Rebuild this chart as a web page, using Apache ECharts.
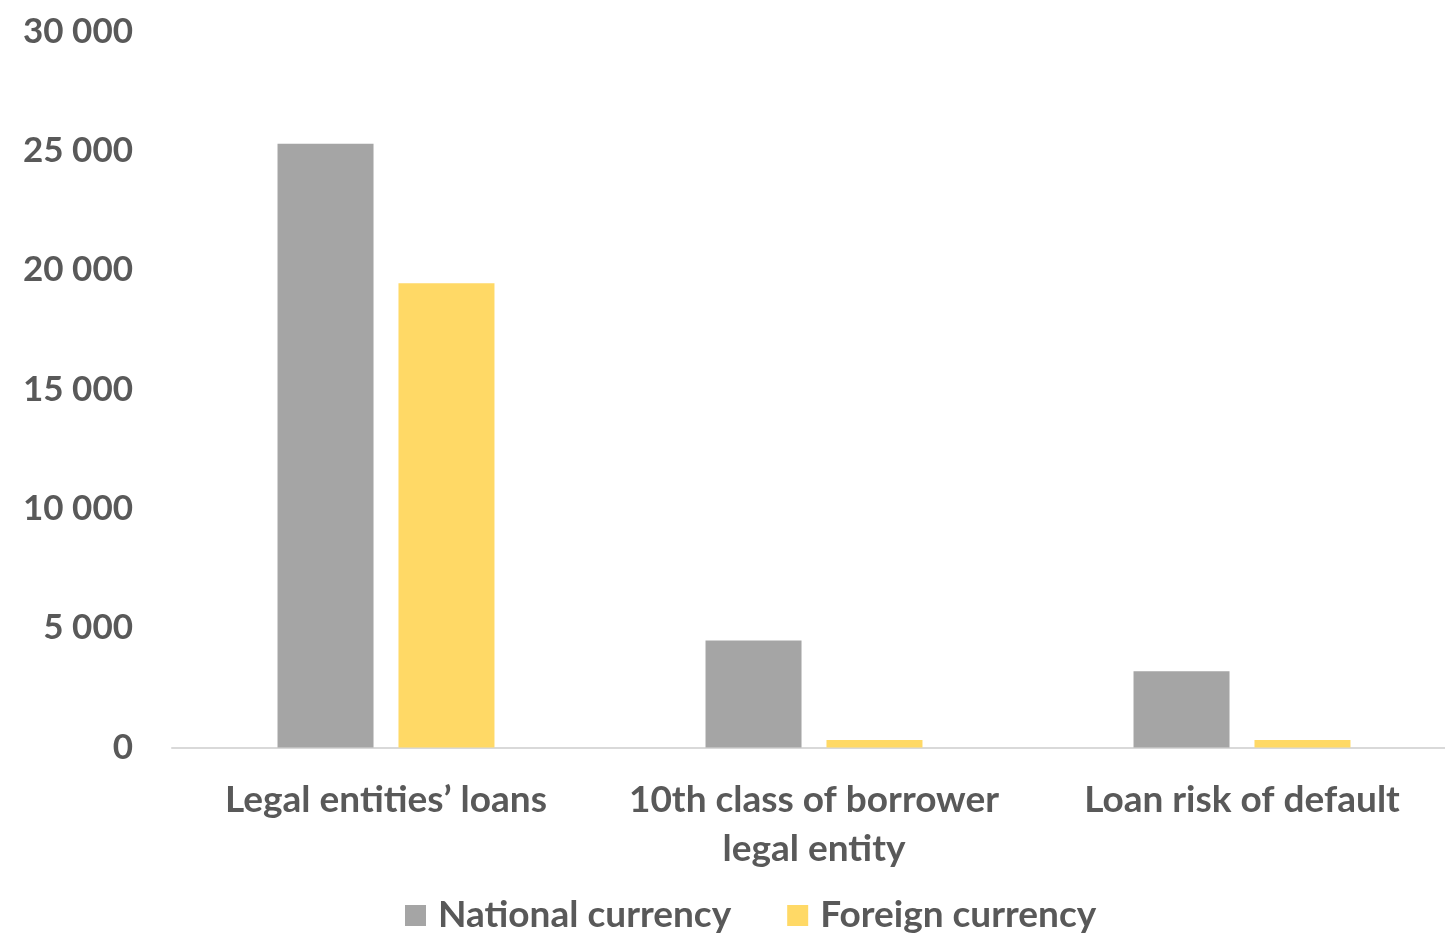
<!DOCTYPE html>
<html>
<head>
<meta charset="utf-8">
<script src="https://cdn.jsdelivr.net/npm/echarts@6/dist/echarts.min.js"></script>
<style>
  html, body { margin: 0; padding: 0; background: #fff; }
  #chart { width: 1445px; height: 938px; }
</style>
</head>
<body>
<div id="chart"></div>
<script>
// Loan volumes by currency
const categories = ['Legal entities\u2019 loans', '10th class of borrower\nlegal entity', 'Loan risk of default'];
const seriesNames = ['National currency', 'Foreign currency'];
const nationalValues = [25300, 4480, 3200];
const foreignValues = [19450, 310, 310];
const yTicks = [0, 5000, 10000, 15000, 20000, 25000, 30000];

const FONT = 'Lato, "Open Sans", sans-serif';
const TEXT = '#595959';

const chart = echarts.init(document.getElementById('chart'), null, { renderer: 'canvas' });

const fmt = v => String(v).replace(/\B(?=(\d{3})+(?!\d))/g, ' ');

chart.setOption({
  animation: false,
  backgroundColor: '#ffffff',
  grid: {
    left: 172, width: 1284, top: 31.5, bottom: 190.5,
    containLabel: false, outerBoundsMode: 'none'
  },
  legend: {
    data: seriesNames,
    top: 892,
    left: 400,
    icon: 'rect',
    itemWidth: 21,
    itemHeight: 21,
    itemGap: 56,
    textStyle: { fontFamily: FONT, fontWeight: 'bold', fontSize: 37, color: TEXT, padding: [0, 0, 0, 7] }
  },
  xAxis: {
    type: 'category',
    data: categories,
    axisLine: { show: true, lineStyle: { color: '#d9d9d9', width: 2 } },
    axisTick: { show: false },
    axisLabel: {
      fontFamily: FONT, fontWeight: 'bold', fontSize: 37, color: TEXT,
      margin: 28, lineHeight: 49, interval: 0
    }
  },
  yAxis: {
    type: 'value',
    min: yTicks[0],
    max: yTicks[yTicks.length - 1],
    interval: yTicks[1] - yTicks[0],
    splitLine: { show: false },
    axisLine: { show: false },
    axisTick: { show: false },
    axisLabel: {
      fontFamily: FONT, fontWeight: 'bold', fontSize: 35, color: TEXT,
      margin: 39, formatter: fmt
    }
  },
  series: [
    {
      name: seriesNames[0], type: 'bar', data: nationalValues,
      barWidth: 96, barGap: '26%',
      itemStyle: { color: '#a5a5a5' }
    },
    {
      name: seriesNames[1], type: 'bar', data: foreignValues,
      barWidth: 96, barGap: '26%',
      itemStyle: { color: '#ffd966' }
    }
  ]
});
</script>
</body>
</html>
